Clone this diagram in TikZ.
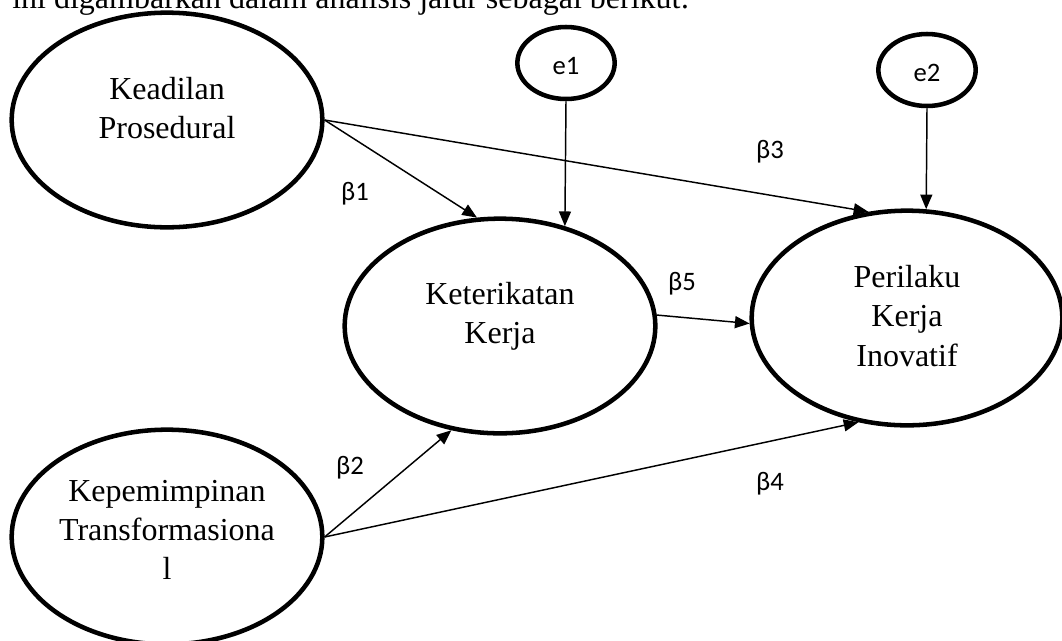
\documentclass[tikz,border=0pt]{standalone}
\usepackage{fontspec}
\setmainfont{Liberation Serif}
\newfontfamily\calib{Carlito}
\usetikzlibrary{shapes.geometric,arrows.meta}
\begin{document}
\begin{tikzpicture}[x=0.75pt,y=-0.75pt,
  big/.style={draw,ellipse,line width=3.4pt,minimum width=233pt,minimum height=161pt,inner sep=0pt},
  err/.style={draw,ellipse,line width=3.4pt,minimum width=73pt,minimum height=54pt,inner sep=0pt},
  lbl/.style={align=center,font=\fontsize{24}{29.5}\selectfont,inner sep=0pt},
  beta/.style={font=\calib\fontsize{20}{23}\selectfont,inner sep=0pt},
  arr/.style={line width=1.1pt,-{Triangle[length=11pt,width=9pt]}}]
\useasboundingbox (0,0) rectangle (1062,640);
\clip (0,0) rectangle (1062,640);
\node[anchor=base west,font=\fontsize{24}{29}\selectfont,inner sep=0pt] (top) at (12,8) {ini digambarkan dalam analisis jalur sebagai berikut:};
\node[big] (kp) at (167,120) {};
\node[big] (kk) at (500,326) {};
\node[big] (pk) at (907,318) {};
\node[big] (km) at (167,537) {};
\node[err] (e1) at (566,63) {};
\node[err] (e2) at (927,70) {};
\node[lbl] (tkp) at (167,108) {Keadilan\\Prosedural};
\node[lbl] (tkk) at (500,316) {Keterikatan\\Kerja};
\node[lbl] (tpk) at (907,316) {Perilaku\\Kerja\\Inovatif};
\node[lbl] (tkm) at (167,530) {Kepemimpinan\\Transformasiona\\l};
\node[beta] (te1) at (566,66) {e1};
\node[beta] (te2) at (927,73) {e2};
\draw[arr] (kp.east) -- (kk.102.6);
\draw[arr] (kp.east) -- (pk.110);
\draw[arr] (e1.south) -- (kk.57);
\draw[arr] (e2.south) -- (pk.80);
\draw[arr] (kk.4) -- (pk.182);
\draw[arr] (km.east) -- (kk.245);
\draw[arr] (km.east) -- (pk.245);
\node[beta] (b1) at (355,194) {β1};
\node[beta] (b3) at (770,152) {β3};
\node[beta] (b5) at (682,284) {β5};
\node[beta] (b2) at (350,468) {β2};
\node[beta] (b4) at (770,484) {β4};
\end{tikzpicture}
\end{document}
